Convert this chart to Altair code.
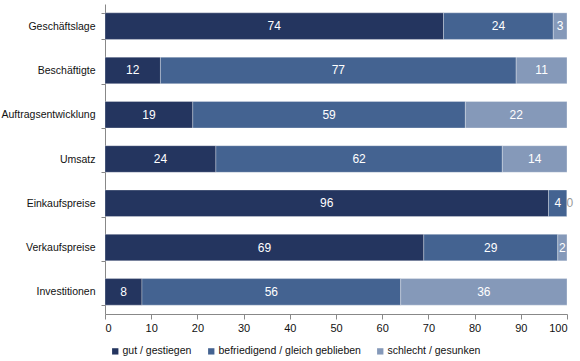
import altair as alt
import pandas as pd

categories = ["Geschäftslage", "Beschäftigte", "Auftragsentwicklung", "Umsatz",
              "Einkaufspreise", "Verkaufspreise", "Investitionen"]
gut = [74, 12, 19, 24, 96, 69, 8]
befriedigend = [24, 77, 59, 62, 4, 29, 56]
schlecht = [3, 11, 22, 14, 0, 2, 36]
series = ["gut / gestiegen", "befriedigend / gleich geblieben", "schlecht / gesunken"]
colors = ["#24355f", "#446391", "#8599b9"]
x_ticks = [0, 10, 20, 30, 40, 50, 60, 70, 80, 90, 100]

rows = []
for i, c in enumerate(categories):
    for j, vals in enumerate([gut, befriedigend, schlecht]):
        rows.append({"cat": c, "series": series[j], "value": vals[i], "order": j})
df = pd.DataFrame(rows)

FONT = "Liberation Sans"

base = (
    alt.Chart(df)
    .transform_joinaggregate(total="sum(value)", groupby=["cat"])
    .transform_calculate(pct="datum.value / datum.total * 100")
    .transform_window(cum="sum(pct)", groupby=["cat"], sort=[{"field": "order"}], frame=[None, 0])
    .transform_calculate(
        start="datum.cum - datum.pct",
        mid="datum.value == 0 ? datum.cum + 0.6 : datum.cum - datum.pct / 2",
    )
)

yenc = alt.Y(
    "cat:N",
    sort=categories,
    scale=alt.Scale(paddingInner=0.4, paddingOuter=0.2),
    axis=alt.Axis(
        title=None, domainColor="#888888", tickColor="#888888", tickBand="extent",
        tickSize=4, labelFont=FONT, labelFontSize=10.5, labelColor="#111111",
        labelPadding=6, minExtent=105, maxExtent=105, labelLimit=120,
    ),
)

bars = base.mark_bar(stroke="#ffffff", strokeWidth=0.6, strokeOpacity=0.5).encode(
    x=alt.X(
        "start:Q",
        scale=alt.Scale(domain=[0, 100], nice=False),
        axis=alt.Axis(
            title=None, values=x_ticks, grid=False, domainColor="#888888",
            tickColor="#888888", tickSize=5, labelFont=FONT, labelFontSize=11,
            labelColor="#111111", labelPadding=3,
        ),
    ),
    x2="cum:Q",
    y=yenc,
    color=alt.Color(
        "series:N",
        scale=alt.Scale(domain=series, range=colors),
        legend=alt.Legend(
            title=None, orient="none", direction="horizontal", legendX=5, legendY=342,
            symbolType="square", symbolSize=40, symbolStrokeWidth=0, labelFont=FONT,
            labelFontSize=10.5, labelColor="#111111", labelOffset=2, columnPadding=14,
        ),
    ),
    order=alt.Order("order:Q"),
)

text = base.mark_text(font=FONT, fontSize=12, baseline="middle").encode(
    x=alt.X("mid:Q"),
    y=alt.Y("cat:N", sort=categories),
    text=alt.Text("value:Q"),
    color=alt.condition("datum.value == 0", alt.value("#999999"), alt.value("#ffffff")),
)

chart = (
    alt.layer(bars, text)
    .properties(width=462, height=310, padding={"left": 0, "top": -1, "right": 0, "bottom": 0})
    .configure_view(stroke=None)
)

chart.save("out.html", embed_options={"renderer": "svg", "actions": False})
